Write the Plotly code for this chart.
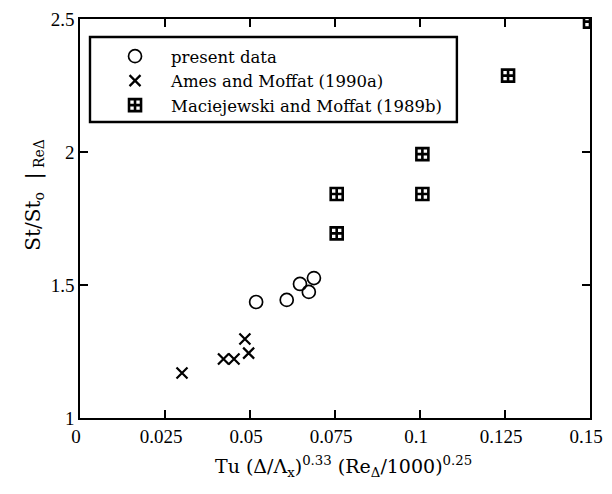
import plotly.graph_objects as go

present_x = [0.0518, 0.0608, 0.0647, 0.0673, 0.0688]
present_y = [1.436, 1.444, 1.504, 1.474, 1.526]

ames_x = [0.0300, 0.0422, 0.0453, 0.0485, 0.0496]
ames_y = [1.169, 1.222, 1.222, 1.297, 1.244]

mac_x = [0.0755, 0.0755, 0.1007, 0.1007, 0.1259, 0.150]
mac_y = [1.694, 1.842, 1.842, 1.992, 2.287, 2.49]

x_ticks = [0, 0.025, 0.05, 0.075, 0.1, 0.125, 0.15]
x_labels = ["0", "0.025", "0.05", "0.075", "0.1", "0.125", "0.15"]
y_ticks = [1, 1.5, 2, 2.5]
y_labels = ["1", "1.5", "2", "2.5"]

FONT = "Liberation Serif"
WFONT = "DejaVu Serif"

fig = go.Figure()
fig.add_trace(go.Scatter(x=present_x, y=present_y, mode="markers", name="present data",
                         marker=dict(symbol="circle-open", size=13, color="black", line=dict(width=1.7))))
fig.add_trace(go.Scatter(x=ames_x, y=ames_y, mode="markers", name="Ames and Moffat (1990a)",
                         marker=dict(symbol="x-thin-open", size=11, color="black", line=dict(width=2.2))))
fig.add_trace(go.Scatter(x=mac_x, y=mac_y, mode="markers", name="Maciejewski and Moffat (1989b)",
                         marker=dict(symbol="square-cross-open", size=12, color="black", line=dict(width=2.6))))

axis_common = dict(showline=True, linecolor="black", linewidth=1.5, mirror="ticks",
                   ticks="inside", ticklen=8, tickwidth=1.5, tickcolor="black",
                   showgrid=False, zeroline=False, automargin=False,
                   tickfont=dict(family=FONT, size=19, color="black"))

fig.update_xaxes(range=[0, 0.15], tickvals=x_ticks, ticktext=x_labels,
                 ticklabelshift=-4, **axis_common)
fig.update_yaxes(range=[1, 2.5], tickvals=y_ticks, ticktext=y_labels, **axis_common)

# axis titles
fig.add_annotation(xref="paper", yref="paper", x=0.516, y=-0.121,
                   text="Tu (Δ/Λ<sub>x</sub>)<sup>0.33</sup> (Re<sub>Δ</sub>/1000)<sup>0.25</sup>",
                   showarrow=False, xanchor="center", yanchor="middle",
                   font=dict(family=WFONT, size=19, color="black"))
fig.add_annotation(xref="paper", yref="paper", x=-0.092, y=0.56,
                   text="St/St<sub>o</sub>  |<sub> ReΔ</sub>", textangle=-90,
                   showarrow=False, xanchor="center", yanchor="middle",
                   font=dict(family=WFONT, size=20, color="black"))

# legend frame
fig.add_shape(type="rect", xref="paper", yref="paper",
              x0=0.0196, x1=0.739, y0=0.742, y1=0.955,
              line=dict(color="black", width=2.4), fillcolor="white", layer="above")

fig.update_layout(
    width=596, height=478,
    margin=dict(l=72, r=14, t=11, b=68),
    paper_bgcolor="white", plot_bgcolor="white",
    showlegend=True,
    legend=dict(x=0.0373, y=0.950, xanchor="left", yanchor="top",
                borderwidth=0, bgcolor="rgba(0,0,0,0)",
                font=dict(family=WFONT, size=16.5, color="black"),
                itemwidth=62, tracegroupgap=0),
)

fig.write_html("out.html")
